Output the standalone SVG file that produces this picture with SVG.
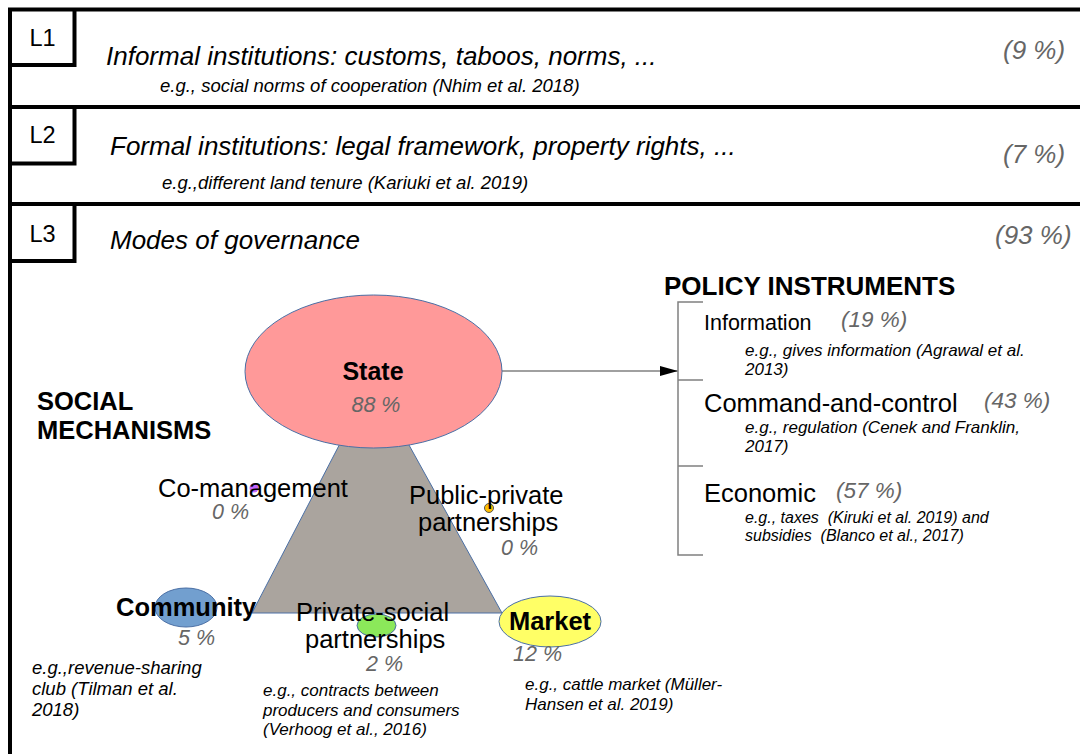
<svg xmlns="http://www.w3.org/2000/svg" width="1080" height="754" viewBox="0 0 1080 754">
<style>
text{font-family:"Liberation Sans",Arial,sans-serif;fill:#000}
.frame{stroke:#000;stroke-width:4;fill:none}
.big{font-size:26px}
.it{font-style:italic}
.ex{font-size:18.5px;font-style:italic}
.pex{font-size:17px;font-style:italic}
.pct{font-style:italic;fill:#666}
.lvl{font-size:23.5px}
.bold{font-weight:bold}
.node{stroke:#4a6fa5;stroke-width:1}
.conn{stroke:#808080;stroke-width:1.5;fill:none}
</style>
<defs>
<marker id="ah" markerWidth="18" markerHeight="10" refX="18" refY="5" orient="auto" markerUnits="userSpaceOnUse">
<path d="M0,0 L18,5 L0,10 Z" fill="#000"/>
</marker>
</defs>
<rect width="1080" height="754" fill="#fff"/>
<g id="frame">
<path class="frame" d="M10,754 V9.5 H1080 M10,107 H1080 M10,204 H1080"/>
<path class="frame" d="M10,65 H74.5 V9.5 M10,163.5 H74.5 V107 M10,261 H74.5 V204"/>
</g>
<g id="level-L1">
<text class="lvl" x="42.5" y="46" text-anchor="middle">L1</text>
<text class="big it" x="106" y="65">Informal institutions: customs, taboos, norms, ...</text>
<text class="ex" x="160" y="92">e.g., social norms of cooperation (Nhim et al. 2018)</text>
<text class="big pct" x="1003" y="59">(9 %)</text>
</g>
<g id="level-L2">
<text class="lvl" x="42.5" y="143" text-anchor="middle">L2</text>
<text class="big it" x="110" y="155">Formal institutions: legal framework, property rights, ...</text>
<text class="ex" x="162" y="189">e.g.,different land tenure (Kariuki et al. 2019)</text>
<text class="big pct" x="1003" y="163">(7 %)</text>
</g>
<g id="level-L3">
<text class="lvl" x="42.5" y="242" text-anchor="middle">L3</text>
<text class="big it" x="110" y="249">Modes of governance</text>
<text class="big pct" x="995" y="244">(93 %)</text>
</g>
<g id="social-mechanisms-title">
<text class="bold" font-size="25.5" x="37" y="410">SOCIAL</text>
<text class="bold" font-size="25.5" x="37" y="439">MECHANISMS</text>
</g>
<g id="triangle">
<polygon class="node" points="373,380 252,613 502,613" fill="#aaa49e"/>
</g>
<g id="connectors">
<line class="conn" x1="502" y1="371" x2="678" y2="371" marker-end="url(#ah)"/>
<path class="conn" d="M703,302 H678 V555 H703 M678,380 H703 M678,466 H703"/>
</g>
<g id="node-state">
<ellipse class="node" cx="373.5" cy="371.5" rx="128.5" ry="76.5" fill="#ff9999"/>
<text class="bold" font-size="25" x="373" y="380" text-anchor="middle">State</text>
<text class="pct" font-size="21.5" x="376" y="411.5" text-anchor="middle">88 %</text>
</g>
<g id="node-co-management">
<circle cx="254" cy="488" r="4.5" fill="#c266ff"/>
<text font-size="25.5" x="158" y="497">Co-management</text>
<text class="pct" font-size="21.5" x="212" y="519">0 %</text>
</g>
<g id="node-public-private">
<circle cx="489" cy="508" r="4.5" fill="#ffbf00" stroke="#555" stroke-width="1"/>
<text font-size="25.5" x="409" y="504">Public-private</text>
<text font-size="25.5" x="418" y="531">partnerships</text>
<text class="pct" font-size="21.5" x="501" y="555">0 %</text>
</g>
<g id="node-community">
<ellipse class="node" cx="186" cy="607.5" rx="31" ry="19.5" fill="#729fcf"/>
<text class="bold" font-size="25.5" x="116" y="616">Community</text>
<text class="pct" font-size="21.5" x="178" y="645">5 %</text>
</g>
<g id="node-private-social">
<ellipse class="node" cx="376.5" cy="625.5" rx="19.5" ry="11.5" fill="#8be85a"/>
<text font-size="25.5" x="296" y="621">Private-social</text>
<text font-size="25.5" x="305" y="648">partnerships</text>
<text class="pct" font-size="21.5" x="366" y="671">2 %</text>
</g>
<g id="node-market">
<ellipse class="node" cx="550" cy="621.5" rx="51" ry="25.5" fill="#ffff66"/>
<text class="bold" font-size="25.5" x="550" y="630" text-anchor="middle">Market</text>
<text class="pct" font-size="21.5" x="513" y="661">12 %</text>
</g>
<g id="examples-social">
<text class="ex" x="32" y="674">e.g.,revenue-sharing</text>
<text class="ex" x="32" y="695">club (Tilman et al.</text>
<text class="ex" x="32" y="716">2018)</text>
<text class="pex" x="263" y="696">e.g., contracts between</text>
<text class="pex" x="263" y="716">producers and consumers</text>
<text class="pex" x="263" y="735">(Verhoog et al., 2016)</text>
<text class="pex" x="525" y="690">e.g., cattle market (Müller-</text>
<text class="pex" x="525" y="710">Hansen et al. 2019)</text>
</g>
<g id="policy-instruments">
<text class="bold" font-size="26" x="664" y="295">POLICY INSTRUMENTS</text>
</g>
<g id="node-information">
<text font-size="21.5" x="704" y="330">Information</text>
<text class="pct" font-size="22.5" x="841" y="327">(19 %)</text>
<text class="pex" x="745" y="356">e.g., gives information (Agrawal et al.</text>
<text class="pex" x="745" y="375">2013)</text>
</g>
<g id="node-command-and-control">
<text font-size="25.5" x="704" y="412">Command-and-control</text>
<text class="pct" font-size="22.5" x="984" y="408">(43 %)</text>
<text class="pex" x="745" y="433">e.g., regulation (Cenek and Franklin,</text>
<text class="pex" x="745" y="452">2017)</text>
</g>
<g id="node-economic">
<text font-size="25.5" x="704" y="502">Economic</text>
<text class="pct" font-size="22.5" x="836" y="498">(57 %)</text>
<text font-size="16" font-style="italic" x="745" y="523" xml:space="preserve">e.g., taxes  (Kiruki et al. 2019) and</text>
<text font-size="16" font-style="italic" x="745" y="541" xml:space="preserve">subsidies  (Blanco et al., 2017)</text>
</g>
</svg>
